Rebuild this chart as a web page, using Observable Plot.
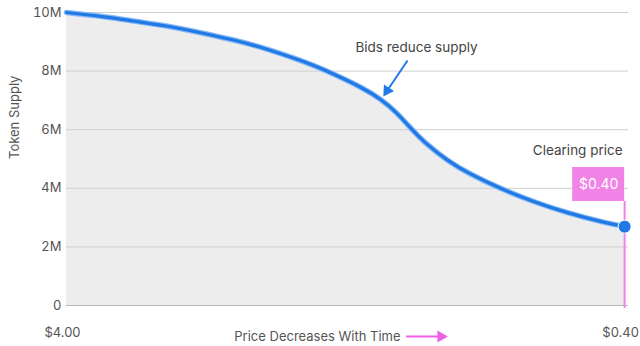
<!DOCTYPE html>
<html>
<head>
<meta charset="utf-8">
<script src="https://cdn.jsdelivr.net/npm/d3@7"></script>
<script src="https://cdn.jsdelivr.net/npm/@observablehq/plot@0.6"></script>
<style>
  html, body { margin: 0; padding: 0; background: #fff; }
</style>
</head>
<body>
<div id="chart"></div>
<script>
// Price (USD) along the auction, decreasing with time
const prices = [4.000, 3.781, 3.568, 3.348, 3.135, 2.923, 2.703, 2.490, 2.329, 2.103, 1.974, 1.877, 1.781, 1.684, 1.542, 1.394, 1.200, 0.987, 0.768, 0.555, 0.400];
// Remaining token supply (millions)
const supply = [10.00, 9.87, 9.71, 9.53, 9.31, 9.06, 8.74, 8.36, 8.02, 7.45, 7.03, 6.60, 6.06, 5.55, 4.96, 4.49, 4.00, 3.55, 3.17, 2.87, 2.69];

const yTicks = [0, 2, 4, 6, 8, 10];
const xTicks = [4.00, 0.40];
const yLabel = "Token Supply";
const xLabel = "Price Decreases With Time";

const clearingPrice = 0.40;
const clearingSupply = 2.69;
const clearingLabel = "$0.40";
const clearingTitle = "Clearing price";
const bidsNote = "Bids reduce supply";

// annotation anchors (data coordinates: price, supply in M)
const bidsNotePos = [{x: 1.742, y: 8.81}];
const bidsArrow = [{x1: 1.800, y1: 8.36, x2: 1.932, y2: 7.33}];
const clearingTitlePos = [{x: 0.413, y: 5.29}];
const clearingBox = [{x1: 0.735, x2: 0.400, y1: 3.55, y2: 4.71}];
const timeArrow = [{x1: 1.806, x2: 1.585, y: -1.06}];
const xLabelPos = [{x: 1.845, y: -1.06}];

const data = prices.map((p, i) => ({price: p, supply: supply[i]}));
const blue = "#2179e6";
const pink = "#f283e6";

const chart = Plot.plot({
  width: 640,
  height: 346,
  marginLeft: 66,
  marginRight: 12,
  marginTop: 12,
  marginBottom: 41,
  x: {domain: [4, 0.375], axis: null},
  y: {domain: [0, 10], axis: null},
  style: {fontFamily: "Inter, 'Noto Sans', sans-serif", fontSize: "13px", color: "#555", background: "#fff", overflow: "visible"},
  marks: [
    Plot.areaY(data, {x: "price", y: "supply", fill: "#ededed", curve: "natural"}),
    Plot.ruleY(yTicks.filter(d => d > 0), {stroke: "#cfcfcf", strokeWidth: 1}),
    Plot.ruleY([0], {stroke: "#b8b8b8", strokeWidth: 1}),
    Plot.axisY({ticks: yTicks, tickSize: 0, tickPadding: 5, label: null, fontSize: 13,
      tickFormat: d => d === 0 ? "0" : d + "M"}),
    Plot.text([yLabel], {frameAnchor: "left", rotate: -90, dx: -52, fontSize: 13, fill: "#555"}),
    Plot.text(xTicks, {x: d => d, frameAnchor: "bottom", dy: 31, dx: -4, fontSize: 13, fill: "#555",
      text: d => "$" + d.toFixed(2)}),
    Plot.text(xLabelPos, {x: "x", y: "y", text: () => xLabel, textAnchor: "end", fontSize: 13, fill: "#555"}),
    Plot.ruleY(timeArrow, {x1: "x1", x2: "x2", y: "y", stroke: "#ee5ee6", strokeWidth: 2}),
    Plot.dot(timeArrow, {x: "x2", y: "y", symbol: "triangle", rotate: 90, r: 4.5, fill: "#ee5ee6"}),
    // pink clearing marker
    Plot.ruleX([clearingPrice], {y1: -0.1, y2: clearingBox[0].y1, stroke: pink, strokeWidth: 2}),
    Plot.rect(clearingBox, {x1: "x1", x2: "x2", y1: "y1", y2: "y2", fill: pink}),
    Plot.text(clearingBox, {x: d => (d.x1 + d.x2) / 2, y: d => (d.y1 + d.y2) / 2, text: () => clearingLabel,
      fill: "#fff", fontSize: 14}),
    Plot.text(clearingTitlePos, {x: "x", y: "y", text: () => clearingTitle, textAnchor: "end", fontSize: 13.5, fill: "#444"}),
    // supply curve
    Plot.line(data, {x: "price", y: "supply", stroke: "#86b9f4", strokeWidth: 5.5, curve: "natural"}),
    Plot.line(data, {x: "price", y: "supply", stroke: blue, strokeWidth: 3.2, curve: "natural"}),
    Plot.dot([{x: clearingPrice, y: clearingSupply}], {x: "x", y: "y", r: 6.5, fill: blue, stroke: "#fff", strokeWidth: 1}),
    // bids annotation
    Plot.text(bidsNotePos, {x: "x", y: "y", text: () => bidsNote, fontSize: 13.5, fill: "#444"}),
    Plot.link(bidsArrow, {x1: "x1", y1: "y1", x2: "x2", y2: "y2", stroke: blue, strokeWidth: 2}),
    Plot.dot(bidsArrow, {x: "x2", y: "y2", symbol: "triangle", rotate: 213, r: 4.5, fill: blue})
  ]
});
document.getElementById("chart").append(chart);
</script>
</body>
</html>
